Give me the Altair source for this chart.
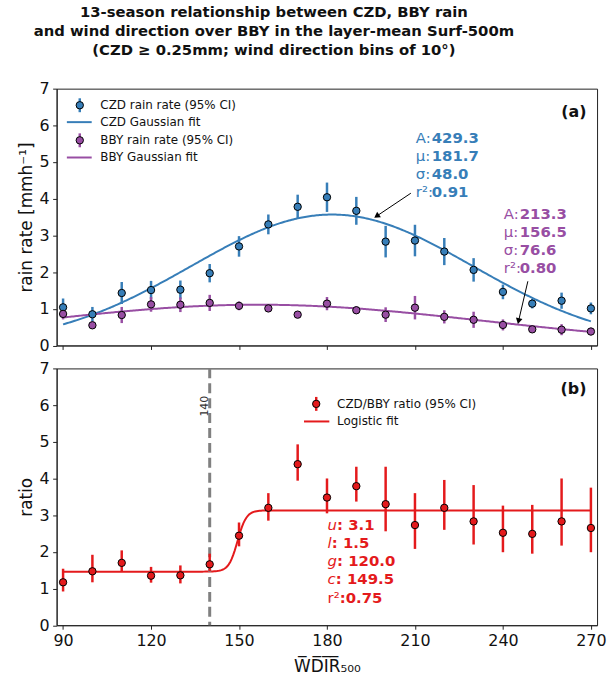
import altair as alt
import numpy as np
import pandas as pd

# ---------------- data ----------------
wdir = list(range(90, 271, 10))

czd_rate = [1.04, 0.85, 1.43, 1.51, 1.52, 1.97, 2.70, 3.30, 3.78, 4.04,
            3.67, 2.83, 2.86, 2.56, 2.06, 1.46, 1.14, 1.22, 1.01]
czd_ci = [0.24, 0.20, 0.30, 0.25, 0.25, 0.25, 0.28, 0.27, 0.33, 0.40,
          0.38, 0.43, 0.43, 0.37, 0.32, 0.20, 0.13, 0.22, 0.16]

bby_rate = [0.86, 0.55, 0.83, 1.12, 1.11, 1.16, 1.08, 1.01, 0.84, 1.14,
            0.96, 0.84, 1.03, 0.78, 0.70, 0.56, 0.44, 0.43, 0.38]
bby_ci = [0.15, 0.10, 0.22, 0.20, 0.20, 0.22, 0.12, 0.10, 0.06, 0.18,
          0.10, 0.20, 0.32, 0.18, 0.22, 0.15, 0.05, 0.15, 0.10]

ratio = [1.17, 1.47, 1.70, 1.35, 1.36, 1.66, 2.44, 3.20, 4.39, 3.48,
         3.79, 3.30, 2.73, 3.20, 2.83, 2.52, 2.49, 2.83, 2.65]
ratio_lo = [0.92, 1.17, 1.47, 1.16, 1.14, 1.47, 2.15, 2.85, 3.94, 3.05,
            3.37, 2.56, 2.08, 2.60, 2.20, 1.99, 1.95, 2.17, 1.99]
ratio_hi = [1.54, 1.92, 2.04, 1.59, 1.63, 1.95, 2.80, 3.60, 4.93, 4.00,
            4.32, 4.32, 3.60, 3.96, 3.82, 3.26, 3.28, 4.00, 3.75]

czd_fit = {"A": 429.3, "mu": 181.7, "sigma": 48.0, "r2": 0.91}
bby_fit = {"A": 213.3, "mu": 156.5, "sigma": 76.6, "r2": 0.80}
logi_fit = {"u": 3.13, "l": 1.46, "g": 120.0, "c": 149.5, "r2": 0.75}

x_ticks = [90, 120, 150, 180, 210, 240, 270]
y_ticks = [0, 1, 2, 3, 4, 5, 6, 7]

title_lines = ["13-season relationship between CZD, BBY rain",
               "and wind direction over BBY in the layer-mean Surf-500m",
               "(CZD \u2265 0.25mm; wind direction bins of 10\u00b0)"]

# ---------------- styling ----------------
BLUE = "#377eb8"
PURPLE = "#984ea3"
RED = "#e41a1c"
FONT = "DejaVu Sans"
W, H = 544, 258.5

# ---------------- tables ----------------
n = len(wdir)
rates = pd.DataFrame({
    "wdir": wdir * 2,
    "series": ["CZD"] * n + ["BBY"] * n,
    "rate": czd_rate + bby_rate,
    "ci": czd_ci + bby_ci,
})
rates["lo"] = rates["rate"] - rates["ci"]
rates["hi"] = rates["rate"] + rates["ci"]

xs = np.arange(90, 270.01, 0.5)


def gauss(x, p):
    return p["A"] / (p["sigma"] * np.sqrt(2 * np.pi)) * np.exp(-(x - p["mu"]) ** 2 / (2 * p["sigma"] ** 2))


def logistic(x, p):
    return p["l"] + (p["u"] - p["l"]) / (1 + np.exp(-p["g"] / 180.0 * (x - p["c"])))


fits = pd.DataFrame({
    "wdir": np.concatenate([xs, xs]),
    "series": ["CZD"] * len(xs) + ["BBY"] * len(xs),
    "rate": np.concatenate([gauss(xs, czd_fit), gauss(xs, bby_fit)]),
})
rat = pd.DataFrame({"wdir": wdir, "ratio": ratio, "lo": ratio_lo, "hi": ratio_hi})
logi = pd.DataFrame({"wdir": xs, "ratio": logistic(xs, logi_fit)})
one = pd.DataFrame({"k": [0]})

xsc = alt.Scale(domain=[87.8, 272.1], nice=False, zero=False)
ysc = alt.Scale(domain=[0, 7], nice=False, zero=False)
color = alt.Color("series:N", scale=alt.Scale(domain=["CZD", "BBY"], range=[BLUE, PURPLE]), legend=None)

XLAB = "W\u0305D\u0305I\u0305R\u0305\u2085\u2080\u2080"
AX = {
    "top_x": alt.Axis(values=x_ticks, labels=False, title=None),
    "top_y": alt.Axis(values=y_ticks, title="rain rate [mmh\u207b\u00b9]"),
    "bot_x": alt.Axis(values=x_ticks, title=XLAB, titlePadding=10),
    "bot_y": alt.Axis(values=y_ticks, title="ratio"),
}


def make_enc(panel):
    ax_x, ax_y = AX[panel + "_x"], AX[panel + "_y"]

    def X(field):
        return alt.X(field, scale=xsc, axis=ax_x)

    def Y(field):
        return alt.Y(field, scale=ysc, axis=ax_y)

    def XD(v):
        return alt.XDatum(v, scale=xsc, axis=ax_x)

    def YD(v):
        return alt.YDatum(v, scale=ysc, axis=ax_y)

    return X, Y, XD, YD


def legend_layers(rows, mx, lx1, lx2, tx):
    out = []
    for kind, col, label, yy in rows:
        if kind == "pt":
            out.append(alt.Chart(one).mark_rule(color=col, strokeWidth=2.5).encode(
                x=alt.value(mx), y=alt.value(yy - 7), y2=alt.value(yy + 7)))
            out.append(alt.Chart(one).mark_circle(size=55, color=col, stroke="black",
                                                  strokeWidth=1, opacity=1).encode(
                x=alt.value(mx), y=alt.value(yy)))
        else:
            out.append(alt.Chart(one).mark_rule(color=col, strokeWidth=2).encode(
                x=alt.value(lx1), x2=alt.value(lx2), y=alt.value(yy)))
        out.append(alt.Chart(one).mark_text(text=label, align="left", baseline="middle",
                                            fontSize=12, color="#111").encode(
            x=alt.value(tx), y=alt.value(yy)))
    return out


# ---------------- panel (a) ----------------
X, Y, XD, YD = make_enc("top")

top_curves = alt.Chart(fits).mark_line(strokeWidth=2).encode(
    x=X("wdir:Q"), y=Y("rate:Q"), color=color, detail="series:N")
top_err = alt.Chart(rates).mark_rule(strokeWidth=2.5).encode(
    x=X("wdir:Q"), y=Y("lo:Q"), y2="hi:Q", color=color)
top_pts = alt.Chart(rates).mark_circle(size=55, stroke="black", strokeWidth=1, opacity=1).encode(
    x=X("wdir:Q"), y=Y("rate:Q"), color=color)

top_leg = legend_layers([("pt", BLUE, "CZD rain rate (95% CI)", 16.7),
                         ("ln", BLUE, "CZD Gaussian fit", 33.7),
                         ("pt", PURPLE, "BBY rain rate (95% CI)", 52.0),
                         ("ln", PURPLE, "BBY Gaussian fit", 69.3)], 23.3, 10.3, 35.3, 44.0)

tag_a = alt.Chart(one).mark_text(text="(a)", fontSize=16, fontWeight="bold", align="right",
                                 baseline="middle", color="#111").encode(
    x=alt.value(533.3), y=alt.value(23.7))


def fit_block(p, col, x0, y0, lh):
    labels = ["A:", "\u03bc:", "\u03c3:", "r\u00b2:"]
    vals = [f"{p['A']:.1f}", f"{p['mu']:.1f}", f"{p['sigma']:.1f}", f"{p['r2']:.2f}"]
    a = alt.Chart(one).mark_text(text=labels, align="left", baseline="alphabetic", fontSize=15,
                                 lineHeight=lh, color=col).encode(x=XD(x0), y=YD(y0))
    b = alt.Chart(one).mark_text(text=vals, align="left", baseline="alphabetic", fontSize=15,
                                 fontWeight="bold", lineHeight=lh, color=col, dx=16).encode(
        x=XD(x0), y=YD(y0))
    return [a, b]


def arrow(xa, ya, xb, yb, ang):
    r = alt.Chart(one).mark_rule(color="black", strokeWidth=1).encode(
        x=XD(xa), y=YD(ya), x2=alt.X2Datum(xb), y2=alt.Y2Datum(yb))
    h = alt.Chart(one).mark_point(shape="triangle", filled=True, color="black", size=45,
                                  angle=ang, opacity=1).encode(x=XD(xb), y=YD(yb))
    return [r, h]


top_ann = (fit_block(czd_fit, BLUE, 210.3, 5.53, 18.3)
           + fit_block(bby_fit, PURPLE, 240.3, 3.46, 18.2)
           + arrow(208.6, 4.15, 197.2, 3.54, 236)
           + arrow(248.5, 1.75, 245.4, 0.69, 193))

top = alt.layer(top_curves, top_err, top_pts, *top_leg, tag_a, *top_ann).properties(width=W, height=H)

# ---------------- panel (b) ----------------
X, Y, XD, YD = make_enc("bot")

bot_curve = alt.Chart(logi).mark_line(strokeWidth=2, color=RED).encode(
    x=X("wdir:Q"), y=Y("ratio:Q"))
vline = alt.Chart(one).mark_rule(color="#808080", strokeWidth=3, strokeDash=[10, 5]).encode(x=XD(140))
vtxt = alt.Chart(one).mark_text(text="140", angle=270, align="center", baseline="bottom",
                                fontSize=11, color="#333").encode(x=XD(140), y=YD(5.97))
bot_err = alt.Chart(rat).mark_rule(strokeWidth=2.5, color=RED).encode(
    x=X("wdir:Q"), y=Y("lo:Q"), y2="hi:Q")
bot_pts = alt.Chart(rat).mark_circle(size=55, color=RED, stroke="black", strokeWidth=1, opacity=1).encode(
    x=X("wdir:Q"), y=Y("ratio:Q"))

bot_leg = legend_layers([("pt", RED, "CZD/BBY ratio (95% CI)", 35.7),
                         ("ln", RED, "Logistic fit", 53.4)], 261.3, 249.0, 274.5, 282.3)
tag_b = alt.Chart(one).mark_text(text="(b)", fontSize=16, fontWeight="bold", align="right",
                                 baseline="middle", color="#111").encode(
    x=alt.value(533.3), y=alt.value(20.7))

logi_rows = [("u", f": {logi_fit['u']:.1f}", 9.5, "italic"),
             ("l", f": {logi_fit['l']:.1f}", 4.2, "italic"),
             ("g", f": {logi_fit['g']:.1f}", 9.5, "italic"),
             ("c", f": {logi_fit['c']:.1f}", 8.3, "italic"),
             ("r\u00b2", f":{logi_fit['r2']:.2f}", 12.2, "normal")]
bot_ann = []
for i, (let, val, wdt, sty) in enumerate(logi_rows):
    bot_ann.append(alt.Chart(one).mark_text(text=let, align="left", baseline="alphabetic", fontSize=15,
                                            fontStyle=sty, color=RED, dy=i * 18.3).encode(
        x=XD(180.2), y=YD(2.6)))
    bot_ann.append(alt.Chart(one).mark_text(text=val, align="left", baseline="alphabetic", fontSize=15,
                                            fontWeight="bold", color=RED, dx=wdt, dy=i * 18.3).encode(
        x=XD(180.2), y=YD(2.6)))

bottom = alt.layer(bot_curve, vline, vtxt, bot_err, bot_pts, *bot_leg, tag_b, *bot_ann).properties(
    width=W, height=H)

chart = alt.vconcat(
    top, bottom, spacing=22.6, bounds="flush",
    title=alt.TitleParams(text=title_lines, fontSize=14.9, fontWeight="bold", lineHeight=19.5,
                          anchor="middle", dx=-38, offset=22, color="#111"),
).properties(
    padding={"left": 16, "top": 2, "right": 0, "bottom": 2}
).configure(font=FONT).configure_view(
    stroke="#222", strokeWidth=1
).configure_axis(
    grid=False, labelFontSize=16, labelColor="#111", titleFontSize=17, titleFontWeight="normal",
    titleColor="#111", tickColor="#222", domainColor="#222", tickSize=4, labelPadding=3.5,
    titlePadding=4, labelFont=FONT, titleFont=FONT,
)

chart.save("out.html", embed_options={"renderer": "svg", "actions": False})
